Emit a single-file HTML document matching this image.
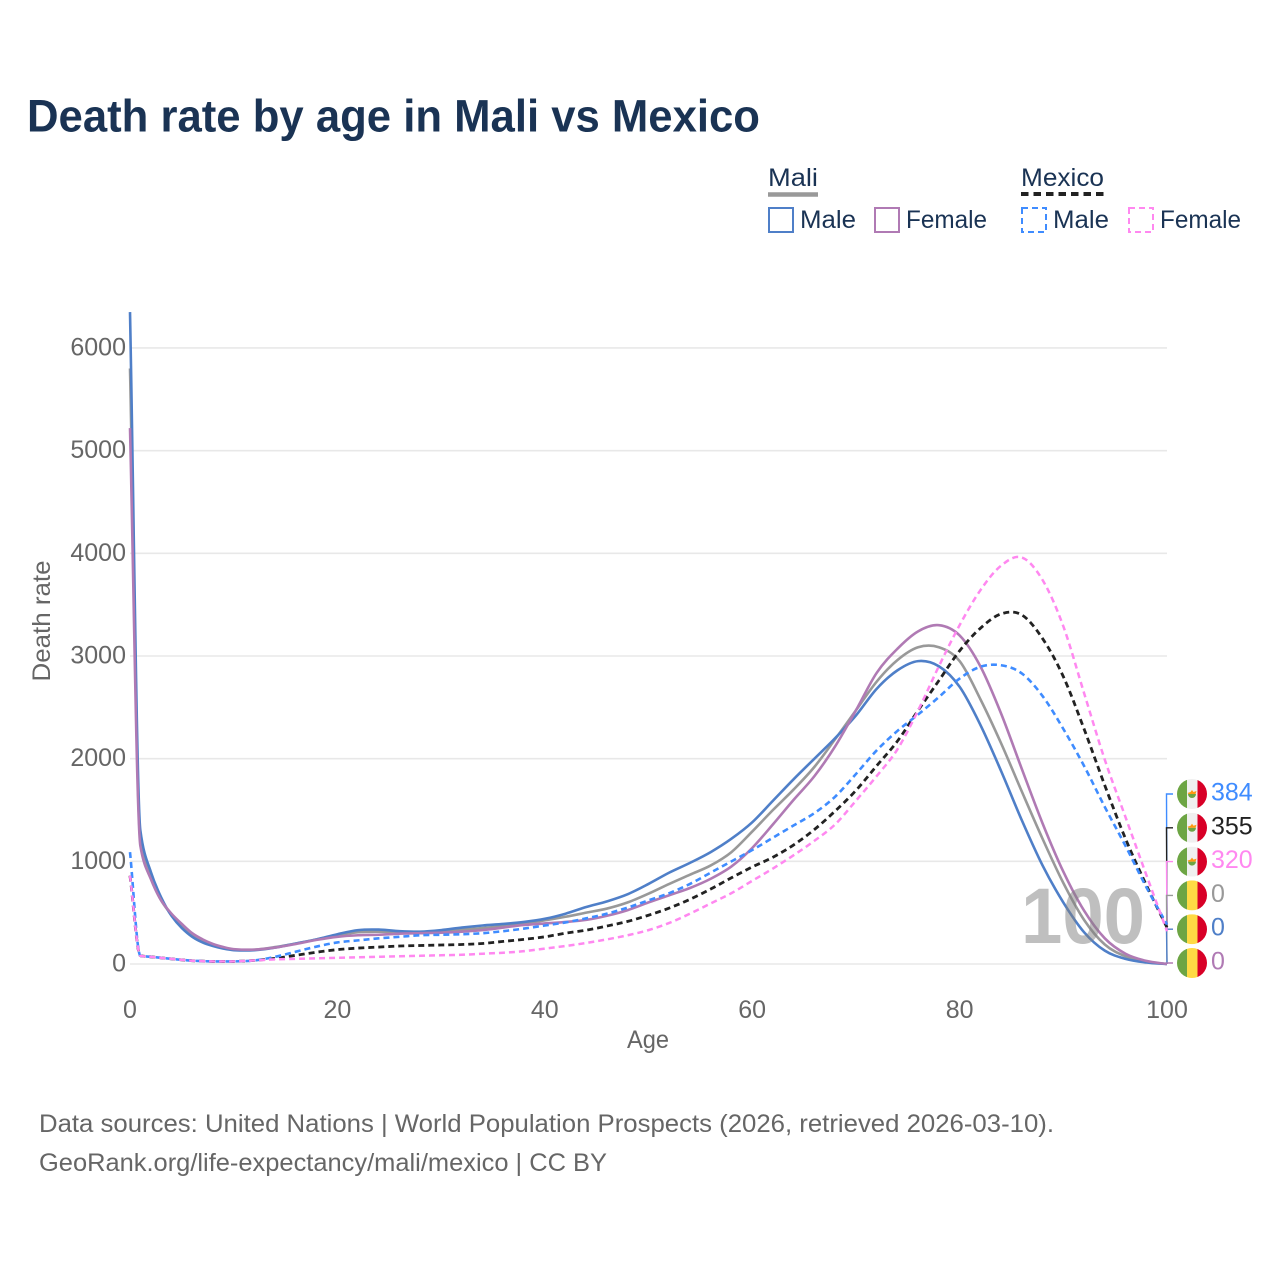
<!DOCTYPE html>
<html lang="en">
<head>
<meta charset="utf-8">
<title>Death rate by age in Mali vs Mexico</title>
<style>
html,body{margin:0;padding:0;background:#fff;}
svg{display:block;font-family:"Liberation Sans",sans-serif;}
</style>
</head>
<body>
<svg id="chart" xmlns="http://www.w3.org/2000/svg" width="1280" height="1280" viewBox="0 0 1280 1280">
  <rect x="0" y="0" width="1280" height="1280" fill="#ffffff"/>
  <text x="27" y="131.5" font-size="45" font-weight="700" fill="#1a3354" textLength="733" lengthAdjust="spacingAndGlyphs">Death rate by age in Mali vs Mexico</text>

  <g font-size="25" fill="#1a3354">
    <text x="768" y="186" textLength="50" lengthAdjust="spacingAndGlyphs">Mali</text>
    <line x1="768" x2="818" y1="194.5" y2="194.5" stroke="#999999" stroke-width="4.5"/>
    <text x="1021" y="186" textLength="83" lengthAdjust="spacingAndGlyphs">Mexico</text>
    <line x1="1021" x2="1104" y1="194" y2="194" stroke="#222222" stroke-width="4" stroke-dasharray="7.5 5"/>
    <rect x="769" y="208" width="24" height="24" fill="none" stroke="#4f7fc8" stroke-width="2"/>
    <text x="800" y="228" textLength="56" lengthAdjust="spacingAndGlyphs">Male</text>
    <rect x="875" y="208" width="24" height="24" fill="none" stroke="#b07ab4" stroke-width="2"/>
    <text x="906" y="228" textLength="81" lengthAdjust="spacingAndGlyphs">Female</text>
    <rect x="1022" y="208" width="24" height="24" fill="none" stroke="#3f8cff" stroke-width="2" stroke-dasharray="6 4"/>
    <text x="1053" y="228" textLength="56" lengthAdjust="spacingAndGlyphs">Male</text>
    <rect x="1129" y="208" width="24" height="24" fill="none" stroke="#ff88f0" stroke-width="2" stroke-dasharray="6 4"/>
    <text x="1160" y="228" textLength="81" lengthAdjust="spacingAndGlyphs">Female</text>
  </g>

  <g id="grid"></g>
  <g id="yticks" font-size="25" fill="#666666" text-anchor="end"></g>
  <g id="xticks" font-size="25" fill="#666666" text-anchor="middle"></g>
  <text transform="translate(50,621) rotate(-90)" text-anchor="middle" font-size="25" fill="#666666" textLength="121" lengthAdjust="spacingAndGlyphs">Death rate</text>
  <text x="648" y="1048" text-anchor="middle" font-size="25" fill="#666666" textLength="42" lengthAdjust="spacingAndGlyphs">Age</text>

  <g id="connectors"></g>
  <g id="series"></g>
  <text x="1021" y="943" font-size="79" font-weight="700" fill="#808080" fill-opacity="0.5" textLength="124" lengthAdjust="spacingAndGlyphs">100</text>

  <defs>
    <clipPath id="flag-clip" clipPathUnits="objectBoundingBox"><circle cx="0.5" cy="0.5" r="0.5"/></clipPath>
  </defs>
  <g id="end-labels" font-size="25"></g>

  <g font-size="25" fill="#666666">
    <text x="39" y="1132" textLength="1015" lengthAdjust="spacingAndGlyphs">Data sources: United Nations | World Population Prospects (2026, retrieved 2026-03-10).</text>
    <text x="39" y="1171" textLength="568" lengthAdjust="spacingAndGlyphs">GeoRank.org/life-expectancy/mali/mexico | CC BY</text>
  </g>
</svg>
<script>
const ages = [0,1,2,3,4,5,6,7,8,9,10,
  12,14,16,18,20,22,24,26,28,30,
  32,34,36,38,40,42,44,46,48,50,
  52,54,56,58,60,62,64,66,68,70,
  72,74,76,78,80,82,84,86,88,90,
  92,94,96,98,100];

const maliTotal = [5800,1200,850,620,480,370,280,220,180,155,140,
  140,165,200,240,280,310,315,310,310,320,
  335,350,370,395,425,460,500,540,600,685,
  780,870,960,1090,1290,1500,1700,1920,2190,2470,
  2750,2960,3085,3085,2950,2580,2150,1680,1220,790,
  430,190,75,20,0];
const maliMale = [6350,1300,900,650,470,350,265,210,175,150,135,
  135,160,200,240,290,330,335,320,315,330,
  355,375,390,410,440,490,555,610,680,780,
  890,985,1090,1220,1380,1590,1800,2000,2200,2420,
  2680,2860,2950,2900,2700,2330,1880,1400,960,600,
  310,130,50,15,0];
const maliFemale = [5220,1150,830,620,490,390,300,240,195,165,145,
  140,160,195,235,265,280,285,295,300,305,
  315,330,355,380,395,410,430,470,525,600,
  670,740,830,950,1130,1360,1600,1830,2120,2470,
  2835,3070,3240,3300,3200,2900,2440,1900,1370,900,
  520,250,100,30,0];
const mexicoTotal = [860,80,70,60,50,40,32,28,25,25,25,
  35,55,85,115,140,155,165,175,180,185,
  190,200,220,240,265,300,330,370,415,475,
  545,630,730,840,945,1040,1160,1310,1490,1690,
  1930,2170,2470,2760,3050,3270,3410,3400,3170,2800,
  2290,1740,1220,770,355];
const mexicoMale = [1090,80,70,60,50,40,32,28,25,25,25,
  35,70,120,170,210,230,250,265,280,285,
  290,300,320,345,375,405,445,490,550,620,
  690,780,890,1000,1110,1230,1350,1470,1630,1850,
  2080,2270,2430,2600,2780,2895,2910,2830,2610,2290,
  1930,1530,1150,750,384];
const mexicoFemale = [860,80,70,60,50,40,32,28,25,25,25,
  35,45,50,55,60,65,70,75,80,85,
  90,100,110,125,150,175,205,240,280,330,
  400,490,590,690,810,930,1060,1200,1360,1590,
  1830,2090,2470,2900,3300,3640,3880,3960,3740,3290,
  2640,1990,1430,870,320];

const yTickValues = [0,1000,2000,3000,4000,5000,6000];
const xTickValues = [0,20,40,60,80,100];
const endLabelNames = ["mexico-male","mexico-total","mexico-female","mali-total","mali-male","mali-female"];
const endLabelValues = [384,355,320,0,0,0];
const endLabelFlags = ["mexico","mexico","mexico","mali","mali","mali"];

const NS = "http://www.w3.org/2000/svg";
const xAt = a => 130 + a * 10.37;
const yAt = v => 964 - v * 0.10267;

function mk(tag, attrs, parent) {
  const el = document.createElementNS(NS, tag);
  for (const k in attrs) el.setAttribute(k, attrs[k]);
  parent.appendChild(el);
  return el;
}

/* cubic path through the data: monotone tangents through the infant spike, central tangents afterwards */
function linePath(xs, ys) {
  const n = xs.length, d = [], m = new Array(n);
  for (let i = 0; i < n - 1; i++) d[i] = (ys[i+1] - ys[i]) / (xs[i+1] - xs[i]);
  m[0] = d[0]; m[n-1] = d[n-2];
  for (let i = 1; i < n - 1; i++) {
    if (i < 6) {
      m[i] = d[i-1] * d[i] <= 0 ? 0 : 2 * d[i-1] * d[i] / (d[i-1] + d[i]);
    } else {
      m[i] = (ys[i+1] - ys[i-1]) / (xs[i+1] - xs[i-1]);
    }
  }
  let p = "M" + xs[0].toFixed(2) + " " + ys[0].toFixed(2);
  for (let i = 0; i < n - 1; i++) {
    const h = (xs[i+1] - xs[i]) / 3;
    p += "C" + (xs[i] + h).toFixed(2) + " " + (ys[i] + m[i] * h).toFixed(2) + " " +
         (xs[i+1] - h).toFixed(2) + " " + (ys[i+1] - m[i+1] * h).toFixed(2) + " " +
         xs[i+1].toFixed(2) + " " + ys[i+1].toFixed(2);
  }
  return p;
}

const gridG = document.getElementById("grid");
const yTickG = document.getElementById("yticks");
yTickValues.forEach(v => {
  const ln = mk("line", {x1: 130, x2: 1167, y1: yAt(v), y2: yAt(v), stroke: "#e8e8e8", "stroke-width": 1.6}, gridG);
  
  
  const t = mk("text", {x: 126, y: yAt(v) + 7.5}, yTickG);
  t.textContent = v;
  
  
});

const xTickG = document.getElementById("xticks");
xTickValues.forEach(v => {
  const t = mk("text", {x: xAt(v), y: 1018}, xTickG);
  t.textContent = v;
  
  
});

const seriesG = document.getElementById("series");
const xs = ages.map(xAt);
function drawSeries(name, values, color, width, dash) {
  const attrs = {d: linePath(xs, values.map(yAt)), fill: "none", stroke: color, "stroke-width": width, "stroke-linejoin": "round"};
  if (dash) attrs["stroke-dasharray"] = dash;
  const p = mk("path", attrs, seriesG);
  
  
}
drawSeries("mali-total", maliTotal, "#999999", 2.6);
drawSeries("mali-male", maliMale, "#4f7fc8", 2.6);
drawSeries("mali-female", maliFemale, "#b07ab4", 2.6);
drawSeries("mexico-total", mexicoTotal, "#222222", 2.8, "6 4");
drawSeries("mexico-male", mexicoMale, "#3f8cff", 2.6, "6 4");
drawSeries("mexico-female", mexicoFemale, "#ff88f0", 2.5, "6 4");

/* end-of-line labels with flags and connector brackets */
const labelColors = {"mexico-male":"#3f8cff","mexico-total":"#222222","mexico-female":"#ff88f0","mali-total":"#999999","mali-male":"#4f7fc8","mali-female":"#b07ab4"};
const labelG = document.getElementById("end-labels");
const connG = document.getElementById("connectors");
endLabelValues.forEach((v, i) => {
  const name = endLabelNames[i];
  const color = labelColors[name];
  const ly = 794 + i * 33.8;

  const conn = mk("path", {d: "M1167 " + yAt(v).toFixed(1) + "L1166.5 " + ly + "L1173 " + ly, fill: "none", stroke: color, "stroke-width": 1.4}, connG);
  
  

  const flag = mk("g", {"clip-path": "url(#flag-clip)"}, labelG);
  
  
  const cx = 1192;
  const mid = endLabelFlags[i] === "mexico" ? "#f0f0f0" : "#ffda44";
  mk("rect", {x: cx - 15, y: ly - 15, width: 10, height: 30, fill: "#6da544"}, flag);
  mk("rect", {x: cx - 5, y: ly - 15, width: 10.5, height: 30, fill: mid}, flag);
  mk("rect", {x: cx + 5.5, y: ly - 15, width: 9.5, height: 30, fill: "#d80027"}, flag);
  if (endLabelFlags[i] === "mexico") {
    mk("path", {d: "M" + (cx - 4) + " " + ly + "a4 4 0 0 0 8 0z", fill: "#6da544"}, flag);
    mk("path", {d: "M" + (cx - 4.5) + " " + (ly - 1) + "l3 -1 1.5 -2 1.5 2 3 -1 -1 3 h-7z", fill: "#ff9811"}, flag);
  }

  const t = mk("text", {x: 1211, y: ly + 6.5, fill: color}, labelG);
  t.textContent = v;
  
  
});
</script>
</body>
</html>
